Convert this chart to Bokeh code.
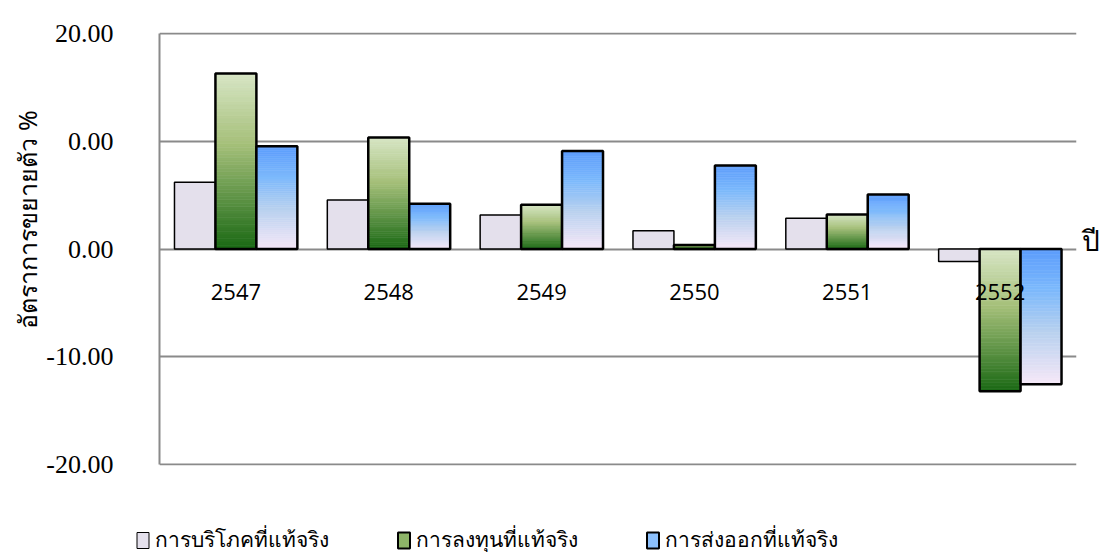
from bokeh.plotting import figure
from bokeh.models import (ColumnDataSource, FactorRange, FixedTicker, Legend, LegendItem,
                          LinearAxis, Title, Range1d)
from bokeh.transform import dodge
from bokeh.core.properties import value
from bokeh.embed import file_html
from bokeh.resources import INLINE

# ---------------- data ----------------
years = ["2547", "2548", "2549", "2550", "2551", "2552"]
consumption = [6.2, 4.55, 3.15, 1.7, 2.85, -1.15]
investment = [16.3, 10.35, 4.1, 0.37, 3.2, -13.2]
exports = [9.55, 4.2, 9.1, 7.75, 5.05, -12.55]
series_names = ["การบริโภคที่แท้จริง", "การลงทุนที่แท้จริง", "การส่งออกที่แท้จริง"]
y_ticks = [-20, -10, 0, 10, 20]
y_tick_labels = ["-20.00", "-10.00", "0.00", "0.00", "20.00"]
y_title = "อัตราการขยายตัว %"
x_title = "ปี"

# ---------------- styles ----------------
GREEN_STOPS = [(0.0, "#d8e6c6"), (0.4, "#a6c07a"), (0.72, "#5c9244"), (1.0, "#1a6814")]
BLUE_STOPS = [(0.0, "#5c9cfc"), (0.3, "#7cb9fc"), (0.62, "#b9d1ef"), (1.0, "#f6e8f8")]
CONS_FILL = "#e4e0ec"
GRID = "#8a8a8a"
THAI_FONT = "Noto Sans"
BAR_W = 0.268


def _rgb(h):
    h = h.lstrip("#")
    return [int(h[i:i + 2], 16) for i in (0, 2, 4)]


def _color(stops, t):
    for (t0, c0), (t1, c1) in zip(stops[:-1], stops[1:]):
        if t <= t1:
            f = (t - t0) / (t1 - t0)
            a, b = _rgb(c0), _rgb(c1)
            return "#%02x%02x%02x" % tuple(int(round(a[i] + (b[i] - a[i]) * f)) for i in range(3))
    return stops[-1][1]


def gradient_source(vals, stops, n=50):
    d = dict(year=[], top=[], bottom=[], color=[])
    for yr, v in zip(years, vals):
        hi, lo = max(v, 0.0), min(v, 0.0)
        span = hi - lo
        for i in range(n):
            t0, t1 = i / n, (i + 1) / n
            d["year"].append(yr)
            d["top"].append(hi - span * t0)
            d["bottom"].append(hi - span * t1)
            d["color"].append(_color(stops, (t0 + t1) / 2))
    return ColumnDataSource(d)


def outline_source(vals):
    return ColumnDataSource(dict(year=years,
                                 top=[max(v, 0.0) for v in vals],
                                 bottom=[min(v, 0.0) for v in vals]))


p = figure(x_range=FactorRange(factors=years, range_padding=0), y_range=Range1d(-20.1, 20.1),
           frame_width=917, frame_height=433,
           min_border_left=159, min_border_top=32, min_border_right=30, min_border_bottom=15,
           output_backend="svg", toolbar_location=None, background_fill_color="white")
p.outline_line_color = None
p.xgrid.grid_line_color = None
p.ygrid.grid_line_color = GRID
p.ygrid.grid_line_width = 2
p.xaxis.visible = False

yax = p.yaxis[0]
yax.ticker = FixedTicker(ticks=y_ticks)
yax.bounds = (-20, 20)
yax.major_label_overrides = {t: l for t, l in zip(y_ticks, y_tick_labels)}
yax.major_label_text_font = "Liberation Serif"
yax.major_label_text_font_size = "26px"
yax.major_label_text_color = "black"
yax.major_label_standoff = 46
yax.major_tick_out = 0
yax.major_tick_in = 0
yax.minor_tick_out = 0
yax.minor_tick_in = 0
yax.axis_line_color = GRID
yax.axis_line_width = 2

# y title on the left (shifted upward like the reference)
p.add_layout(Title(text=y_title, align="left", offset=137, standoff=0,
                   text_font=THAI_FONT, text_font_size="25px", text_font_style="normal",
                   text_color="black"), "left")

# "ปี" shown on a right-hand axis as a horizontal label next to the zero line
rax = LinearAxis(ticker=FixedTicker(ticks=[0.7]), major_label_overrides={0.7: x_title},
                 major_label_text_font="Liberation Serif", major_label_text_font_size="28px",
                 major_label_text_color="black", major_label_standoff=5,
                 axis_line_color=None, major_tick_out=0, major_tick_in=0,
                 minor_tick_out=0, minor_tick_in=0)
p.add_layout(rax, "right")

# consumption bars (solid)
p.vbar(x=dodge("year", -BAR_W, range=p.x_range), top="top", bottom="bottom", width=BAR_W,
       source=outline_source(consumption), fill_color=CONS_FILL, line_color="black",
       line_width=1.5)

# investment bars (green gradient)
p.vbar(x=dodge("year", 0, range=p.x_range), top="top", bottom="bottom", width=BAR_W,
       source=gradient_source(investment, GREEN_STOPS), fill_color="color", line_color="color",
       line_width=0.6)
p.vbar(x=dodge("year", 0, range=p.x_range), top="top", bottom="bottom", width=BAR_W,
       source=outline_source(investment), fill_alpha=0, line_color="black", line_width=2.5)

# export bars (blue gradient)
p.vbar(x=dodge("year", BAR_W, range=p.x_range), top="top", bottom="bottom", width=BAR_W,
       source=gradient_source(exports, BLUE_STOPS), fill_color="color", line_color="color",
       line_width=0.6)
p.vbar(x=dodge("year", BAR_W, range=p.x_range), top="top", bottom="bottom", width=BAR_W,
       source=outline_source(exports), fill_alpha=0, line_color="black", line_width=2.5)

# category labels drawn below the zero line
p.text(x="year", y=-3.95, text="year", source=ColumnDataSource(dict(year=years)),
       text_font=value("Open Sans"), text_font_size="22px", text_color="black",
       text_align="center", text_baseline="middle")

# ---------------- legend strip (separate figure below the chart) ----------------
lp = figure(width=1106, height=72, x_range=Range1d(0, 1), y_range=Range1d(0, 1),
            min_border=0, output_backend="svg", toolbar_location=None)
lp.axis.visible = False
lp.grid.visible = False
lp.outline_line_color = None

NAN = float("nan")


# swatch carriers: a single non-drawable (NaN) row each, so only the legend swatch shows
def swatch(fill, lw):
    return lp.vbar(x="x", top="top", bottom="bottom", width=0.1,
                   source=ColumnDataSource(dict(x=[NAN], top=[NAN], bottom=[NAN])),
                   fill_color=fill, line_color="black", line_width=lw)


r1 = swatch(CONS_FILL, 1)
r2 = swatch("#8db468", 2)
r3 = swatch("#8cc0fc", 2)
leg = Legend(items=[LegendItem(label=n, renderers=[r]) for n, r in zip(series_names, [r1, r2, r3])],
             location=(135, -4), orientation="horizontal", padding=0, margin=0, spacing=67,
             glyph_width=15, glyph_height=20, label_height=20, label_standoff=5,
             label_text_font=THAI_FONT, label_text_font_size="21px",
             label_text_color="black", border_line_color=None, background_fill_alpha=0)
lp.add_layout(leg)

open("out.html", "w").write(file_html([p, lp], INLINE))
